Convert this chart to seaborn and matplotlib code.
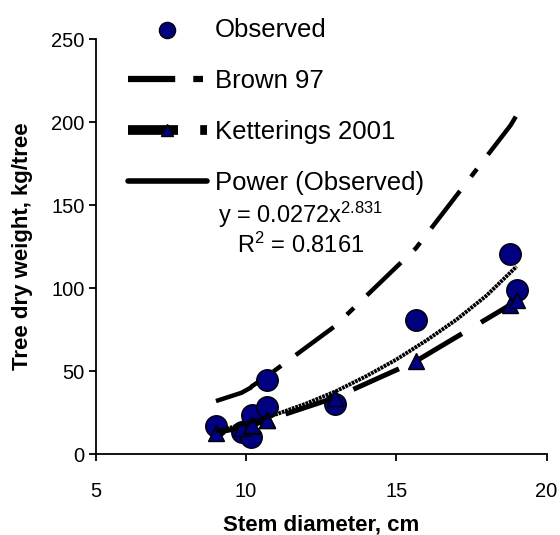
import matplotlib
matplotlib.use("Agg")
import matplotlib.pyplot as plt
import numpy as np
import pandas as pd
import seaborn as sns

# values
stem_diameter = [9.0, 9.85, 10.15, 10.2, 10.7, 10.7, 12.95, 15.65, 18.8, 19.0]
observed = [17, 13.5, 10.5, 23.5, 28.5, 44.5, 30, 81, 120.5, 99]
brown_97 = [32, 37, 40, 41, 47, 47, 77, 124, 198, 204]
ketterings_2001 = [13, 16, 17, 17.5, 20.5, 20.5, 34, 56, 90, 93]

# power trendline read at whole diameters
power_x = [9, 10, 11, 12, 13, 14, 15, 16, 17, 18, 19]
power_y = [13.7, 18.5, 24, 30.5, 38, 47, 57, 68.5, 81, 95.5, 113]

equation_text = "y = 0.0272x$^{2.831}$"
r2_text = "R$^{2}$ = 0.8161"

sns.set_style("ticks")
plt.rcParams["font.family"] = ["Liberation Sans", "DejaVu Sans"]
plt.rcParams["mathtext.fontset"] = "custom"
plt.rcParams["mathtext.rm"] = "Liberation Sans"
plt.rcParams["mathtext.default"] = "regular"
plt.rcParams["lines.scale_dashes"] = False
plt.rcParams["text.color"] = "black"
plt.rcParams["axes.labelcolor"] = "black"

df = pd.DataFrame({"d": stem_diameter, "obs": observed,
                   "brown": brown_97, "kett": ketterings_2001})
pw = pd.DataFrame({"d": power_x, "y": power_y})

fig = plt.figure(figsize=(5.6, 5.35), dpi=100)
ax = fig.add_axes([0.171, 0.151, 0.805, 0.776])

sns.scatterplot(data=df, x="d", y="obs", ax=ax, s=240, color="#000080",
                edgecolor="black", linewidth=1, label="Observed", zorder=2)
sns.lineplot(data=df, x="d", y="brown", ax=ax, estimator=None, color="black",
             linewidth=3.2, linestyle=(0, (34, 13, 7, 13)), label="Brown 97", zorder=3)
sns.lineplot(data=df, x="d", y="kett", ax=ax, estimator=None, color="black",
             linewidth=3.6, linestyle=(0, (36, 16)), marker="^", markersize=11,
             markerfacecolor="#000080", markeredgecolor="black", markeredgewidth=1,
             label="Ketterings 2001", zorder=4)
sns.lineplot(data=pw, x="d", y="y", ax=ax, estimator=None, color="black",
             linewidth=2.8, linestyle=(0, (2, 0.6)), label="Power (Observed)", zorder=5)

ax.set_xlim(5, 20)
ax.set_ylim(0, 250)
ax.set_xticks([5, 10, 15, 20])
ax.set_yticks([0, 50, 100, 150, 200, 250])
sns.despine(ax=ax)
for s in ["left", "bottom"]:
    ax.spines[s].set_color("black")
    ax.spines[s].set_linewidth(1.3)
ax.tick_params(axis="both", colors="black", labelsize=14.5, length=5, width=1.3)
ax.tick_params(axis="x", pad=15)
ax.tick_params(axis="y", pad=3)
ax.set_xlabel("Stem diameter, cm", fontsize=16, fontweight="bold", labelpad=10)
ax.set_ylabel("Tree dry weight, kg/tree", fontsize=16, fontweight="bold", labelpad=13)

ax.text(218 / 560, 1 - 215 / 535, equation_text, transform=fig.transFigure,
        fontsize=17, va="center", ha="left")
ax.text(237 / 560, 1 - 245 / 535, r2_text, transform=fig.transFigure,
        fontsize=17, va="center", ha="left")

handles, labels = ax.get_legend_handles_labels()
leg = ax.legend(handles, labels, loc="upper left", bbox_to_anchor=(0.205, 0.99),
                bbox_transform=fig.transFigure, frameon=False, fontsize=18.5,
                handlelength=3.1, handletextpad=0.3, labelspacing=1.05,
                borderpad=0, markerscale=0.75)
for ln, w in zip(leg.get_lines(), [4.5, 7, 4]):
    ln.set_linewidth(w)
leg.get_lines()[2].set_linestyle("-")

fig.savefig("out.png", dpi=100)
